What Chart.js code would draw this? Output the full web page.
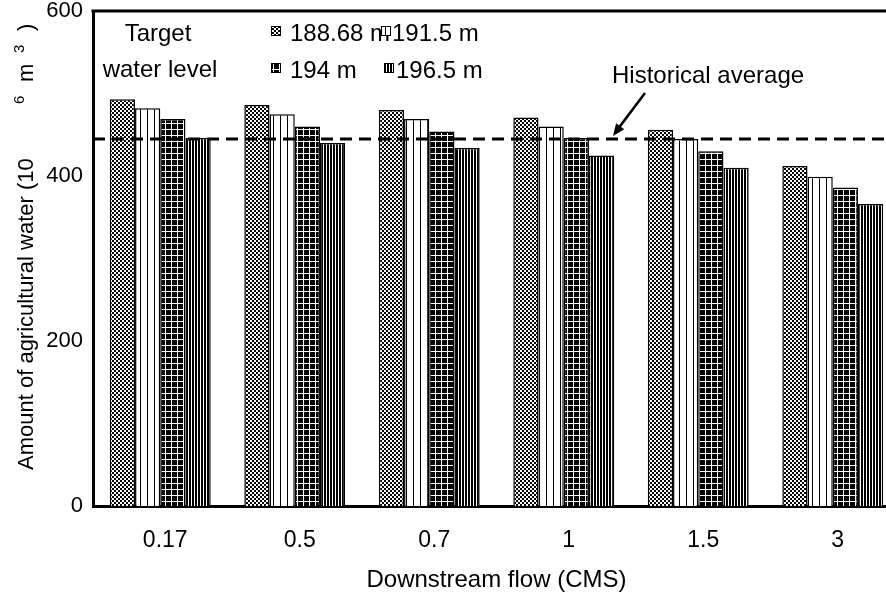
<!DOCTYPE html>
<html>
<head>
<meta charset="utf-8">
<script src="https://cdn.jsdelivr.net/npm/chart.js@4.4.1/dist/chart.umd.min.js"></script>
<style>
html,body{margin:0;padding:0;background:#fff;overflow:hidden;width:886px;height:592px;}
canvas{display:block;}
</style>
</head>
<body>
<canvas id="c" width="900" height="592"></canvas>
<script>
const categories = ['0.17', '0.5', '0.7', '1', '1.5', '3'];
const seriesLabels = ['188.68 m', '191.5 m', '194 m', '196.5 m'];
const s188 = [493, 486, 480, 471, 456, 412];
const s191 = [482, 475, 469, 460, 445, 399];
const s194 = [469, 460, 454, 446, 430, 386];
const s196 = [446, 440, 434, 425, 410, 366];
const historicalAverage = 445;
const yTicks = [0, 200, 400, 600];
const yTitleParts = [
  ['Amount of agricultural water (10', 0, 22, 0],
  ['6', 366, 15, -7],
  ['m', 388, 22, 0],
  ['3', 417, 15, -7],
  [')', 439, 22, 0]
];

const FONT = '"Liberation Sans", Arial, "DejaVu Sans", sans-serif';

function makePattern(kind) {
  const t = document.createElement('canvas');
  const ctx = t.getContext('2d');
  let n;
  if (kind === 0) { // checkerboard
    n = 4; t.width = n; t.height = n;
    ctx.fillStyle = '#fff'; ctx.fillRect(0,0,n,n);
    ctx.fillStyle = '#000';
    ctx.fillRect(0,0,2,2); ctx.fillRect(2,2,2,2);
  } else if (kind === 1) { // sparse vertical lines on white
    n = 7; t.width = n; t.height = n;
    ctx.fillStyle = '#fff'; ctx.fillRect(0,0,n,n);
    ctx.fillStyle = '#000'; ctx.fillRect(0,0,1,n);
  } else if (kind === 2) { // black with white grid
    n = 6; t.width = n; t.height = n;
    ctx.fillStyle = '#000'; ctx.fillRect(0,0,n,n);
    ctx.fillStyle = '#fff'; ctx.fillRect(3,0,1,n); ctx.fillRect(0,3,n,1);
  } else { // dense vertical lines
    n = 3; t.width = n; t.height = n;
    ctx.fillStyle = '#fff'; ctx.fillRect(0,0,n,n);
    ctx.fillStyle = '#000'; ctx.fillRect(0,0,2,n);
  }
  return document.getElementById('c').getContext('2d').createPattern(t, 'repeat');
}
const patterns = [0,1,2,3].map(makePattern);

const extras = {
  id: 'extras',
  afterDatasetsDraw(chart) {
    const ctx = chart.ctx;
    const a = chart.chartArea;
    const y = chart.scales.y;
    ctx.save();
    // top frame
    ctx.strokeStyle = '#000'; ctx.lineWidth = 3;
    ctx.beginPath(); ctx.moveTo(a.left - 1.5, a.top); ctx.lineTo(a.right, a.top); ctx.stroke();
    // historical average dashed line
    const hy = y.getPixelForValue(historicalAverage);
    ctx.setLineDash([12, 7]); ctx.lineWidth = 3;
    ctx.beginPath(); ctx.moveTo(a.left, hy); ctx.lineTo(a.right, hy); ctx.stroke();
    ctx.setLineDash([]);
    // annotation text + arrow
    ctx.fillStyle = '#000';
    ctx.font = '24px ' + FONT;
    ctx.textBaseline = 'middle'; ctx.textAlign = 'left';
    ctx.fillText('Historical average', 612, 76);
    ctx.lineWidth = 2.5;
    const x1 = 645, y1 = 93, x2 = 613, y2 = hy - 3;
    ctx.beginPath(); ctx.moveTo(x1, y1); ctx.lineTo(x2 + 5, y2 - 7); ctx.stroke();
    const ang = Math.atan2(y2 - y1, x2 - x1);
    ctx.beginPath();
    ctx.moveTo(x2, y2);
    ctx.lineTo(x2 - 13*Math.cos(ang - 0.4), y2 - 13*Math.sin(ang - 0.4));
    ctx.lineTo(x2 - 13*Math.cos(ang + 0.4), y2 - 13*Math.sin(ang + 0.4));
    ctx.closePath(); ctx.fill();
    // legend
    ctx.textAlign = 'center';
    ctx.fillText('Target', 158, 34);
    ctx.fillText('water level', 160, 70);
    const pos = [[271, 33], [381, 33], [271, 70], [384, 70]];
    const textX = [290, 392, 290, 396];
    ctx.textAlign = 'left';
    for (let i = 0; i < 4; i++) {
      ctx.fillStyle = '#000';
      ctx.fillText(seriesLabels[i], textX[i], pos[i][1] + 1);
    }
    for (let i = 0; i < 4; i++) {
      const [bx, by] = pos[i];
      ctx.fillStyle = patterns[i];
      ctx.fillRect(bx, by - 7, 10, 10);
      ctx.strokeStyle = '#000'; ctx.lineWidth = 1;
      ctx.strokeRect(bx + 0.5, by - 6.5, 9, 9);
    }
    // y-axis title with superscripts
    ctx.fillStyle = '#000';
    ctx.translate(27, 470);
    ctx.rotate(-Math.PI / 2);
    ctx.textAlign = 'left'; ctx.textBaseline = 'middle';
    for (const [txt, dx, size, dy] of yTitleParts) {
      ctx.font = size + 'px ' + FONT;
      ctx.fillText(txt, dx, dy);
    }
    ctx.restore();
  }
};

const data = {
  labels: categories,
  datasets: [s188, s191, s194, s196].map((d, i) => ({
    label: seriesLabels[i],
    data: d,
    backgroundColor: patterns[i],
    borderColor: '#000',
    borderWidth: 1.5,
    categoryPercentage: 0.75,
    barPercentage: 1.0
  }))
};

new Chart(document.getElementById('c'), {
  type: 'bar',
  data,
  options: {
    responsive: false,
    animation: false,
    layout: { padding: { top: 11, right: 0, left: 0, bottom: 0 } },
    plugins: { legend: { display: false }, tooltip: { enabled: false } },
    scales: {
      x: {
        grid: { display: false, drawTicks: false },
        border: { display: true, color: '#000', width: 3 },
        ticks: { color: '#000', font: { family: FONT, size: 23 }, padding: 21, labelOffset: 5 },
        title: { display: true, text: 'Downstream flow (CMS)', color: '#000', font: { family: FONT, size: 24, lineHeight: 1 }, padding: { top: 0, bottom: 0 } },
        afterFit(s) { s.height = 86; s.paddingLeft = 0; s.paddingRight = 0; }
      },
      y: {
        min: 0, max: 600,
        afterBuildTicks(s) { s.ticks = yTicks.map(v => ({ value: v })); },
        grid: { display: false, drawTicks: false },
        border: { display: true, color: '#000', width: 3 },
        ticks: { color: '#000', font: { family: FONT, size: 22, lineHeight: 1 }, padding: 10 },
        title: { display: false },
        afterFit(s) { s.width = 93; s.paddingTop = 0; s.paddingBottom = 0; }
      }
    }
  },
  plugins: [extras]
});
</script>
</body>
</html>
